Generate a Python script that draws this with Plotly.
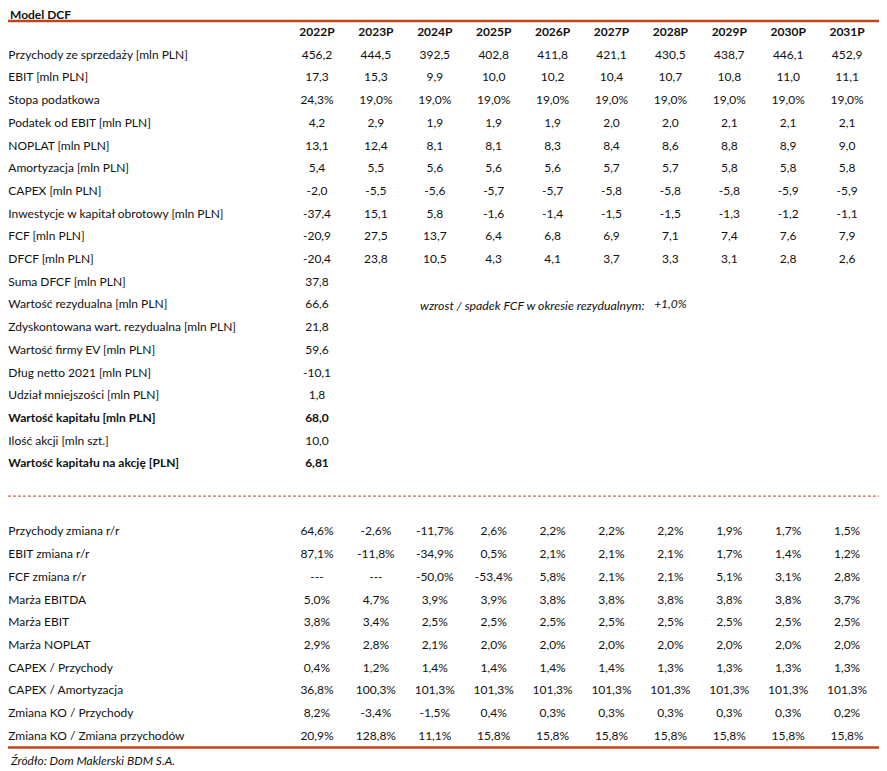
import plotly.graph_objects as go

YEARS = ["2022P", "2023P", "2024P", "2025P", "2026P", "2027P", "2028P", "2029P", "2030P", "2031P"]

MODEL_LABELS = [
    "Przychody ze sprzedaży [mln PLN]", "EBIT [mln PLN]", "Stopa podatkowa", "Podatek od EBIT [mln PLN]",
    "NOPLAT [mln PLN]", "Amortyzacja [mln PLN]", "CAPEX [mln PLN]", "Inwestycje w kapitał obrotowy [mln PLN]",
    "FCF [mln PLN]", "DFCF [mln PLN]",
]
MODEL_VALUES = [
    [456.2, 444.5, 392.5, 402.8, 411.8, 421.1, 430.5, 438.7, 446.1, 452.9],
    [17.3, 15.3, 9.9, 10.0, 10.2, 10.4, 10.7, 10.8, 11.0, 11.1],
    [24.3, 19.0, 19.0, 19.0, 19.0, 19.0, 19.0, 19.0, 19.0, 19.0],
    [4.2, 2.9, 1.9, 1.9, 1.9, 2.0, 2.0, 2.1, 2.1, 2.1],
    [13.1, 12.4, 8.1, 8.1, 8.3, 8.4, 8.6, 8.8, 8.9, 9.0],
    [5.4, 5.5, 5.6, 5.6, 5.6, 5.7, 5.7, 5.8, 5.8, 5.8],
    [-2.0, -5.5, -5.6, -5.7, -5.7, -5.8, -5.8, -5.8, -5.9, -5.9],
    [-37.4, 15.1, 5.8, -1.6, -1.4, -1.5, -1.5, -1.3, -1.2, -1.1],
    [-20.9, 27.5, 13.7, 6.4, 6.8, 6.9, 7.1, 7.4, 7.6, 7.9],
    [-20.4, 23.8, 10.5, 4.3, 4.1, 3.7, 3.3, 3.1, 2.8, 2.6],
]
PCT_MODEL_ROWS = {"Stopa podatkowa"}

VALUATION_LABELS = [
    "Suma DFCF [mln PLN]", "Wartość rezydualna [mln PLN]", "Zdyskontowana wart. rezydualna [mln PLN]",
    "Wartość firmy EV [mln PLN]", "Dług netto 2021 [mln PLN]", "Udział mniejszości [mln PLN]",
    "Wartość kapitału [mln PLN]", "Ilość akcji [mln szt.]", "Wartość kapitału na akcję [PLN]",
]
VALUATION_VALUES = ["37,8", "66,6", "21,8", "59,6", "-10,1", "1,8", "68,0", "10,0", "6,81"]
BOLD_ROWS = {"Wartość kapitału [mln PLN]", "Wartość kapitału na akcję [PLN]"}

RESIDUAL_NOTE = "wzrost / spadek FCF w okresie rezydualnym:"
RESIDUAL_GROWTH = "+1,0%"

RATIO_LABELS = [
    "Przychody zmiana r/r", "EBIT zmiana r/r", "FCF zmiana r/r", "Marża EBITDA", "Marża EBIT", "Marża NOPLAT",
    "CAPEX / Przychody", "CAPEX / Amortyzacja", "Zmiana KO / Przychody", "Zmiana KO / Zmiana przychodów",
]
RATIO_VALUES = [
    [64.6, -2.6, -11.7, 2.6, 2.2, 2.2, 2.2, 1.9, 1.7, 1.5],
    [87.1, -11.8, -34.9, 0.5, 2.1, 2.1, 2.1, 1.7, 1.4, 1.2],
    [None, None, -50.0, -53.4, 5.8, 2.1, 2.1, 5.1, 3.1, 2.8],
    [5.0, 4.7, 3.9, 3.9, 3.8, 3.8, 3.8, 3.8, 3.8, 3.7],
    [3.8, 3.4, 2.5, 2.5, 2.5, 2.5, 2.5, 2.5, 2.5, 2.5],
    [2.9, 2.8, 2.1, 2.0, 2.0, 2.0, 2.0, 2.0, 2.0, 2.0],
    [0.4, 1.2, 1.4, 1.4, 1.4, 1.4, 1.3, 1.3, 1.3, 1.3],
    [36.8, 100.3, 101.3, 101.3, 101.3, 101.3, 101.3, 101.3, 101.3, 101.3],
    [8.2, -3.4, -1.5, 0.4, 0.3, 0.3, 0.3, 0.3, 0.3, 0.2],
    [20.9, 128.8, 11.1, 15.8, 15.8, 15.8, 15.8, 15.8, 15.8, 15.8],
]

TITLE = "Model DCF"
SOURCE = "Źródło: Dom Maklerski BDM S.A."

FONT = "Lato"
TEXT_COLOR = "#111111"
RULE_COLOR = "#c0431a"
FONT_SIZE = 12
GAP_ROWS = 2

# page body has an 8px margin, so the figure is a bit smaller than the window
WIDTH, HEIGHT = 879, 763
COL_PX, FIRST_COL = 58.9, 309      # pixel pitch of year columns, centre of first one
ROW_PX, FIRST_ROW = 22.7, 25.0     # pixel pitch of rows, centre of header row
LABEL_X = (0.3 - FIRST_COL) / COL_PX
RULE_X0, RULE_X1 = -FIRST_COL / COL_PX, (872 - FIRST_COL) / COL_PX


def fmt(value, pct=False):
    if value is None:
        return "---"
    text = f"{value:.1f}".replace(".", ",")
    return text + "%" if pct else text


def bold(text):
    return f"<b>{text}</b>"


label_rows, label_texts = [], []
value_x, value_y, value_texts = [], [], []

for i, year in enumerate(YEARS):
    value_x.append(i)
    value_y.append(0)
    value_texts.append(bold(year))

row = 1
for label, values in zip(MODEL_LABELS, MODEL_VALUES):
    label_rows.append(row)
    label_texts.append(label)
    for i, v in enumerate(values):
        value_x.append(i)
        value_y.append(row)
        value_texts.append(fmt(v, label in PCT_MODEL_ROWS))
    row += 1

note_row = None
for label, value in zip(VALUATION_LABELS, VALUATION_VALUES):
    label_rows.append(row)
    label_texts.append(bold(label) if label in BOLD_ROWS else label)
    value_x.append(0)
    value_y.append(row)
    value_texts.append(bold(value) if label in BOLD_ROWS else value)
    if label.startswith("Wartość rezydualna"):
        note_row = row
    row += 1

dash_row = row + 0.4
row += GAP_ROWS

for label, values in zip(RATIO_LABELS, RATIO_VALUES):
    label_rows.append(row)
    label_texts.append(label)
    for i, v in enumerate(values):
        value_x.append(i)
        value_y.append(row)
        value_texts.append(fmt(v, True))
    row += 1
last_row = row - 1

fig = go.Figure()
fig.add_scatter(x=[LABEL_X] * len(label_rows), y=label_rows, text=label_texts, mode="text",
                textposition="middle right", hoverinfo="skip", cliponaxis=False)
fig.add_scatter(x=value_x, y=value_y, text=value_texts, mode="text",
                textposition="middle center", hoverinfo="skip", cliponaxis=False)
fig.add_scatter(x=[YEARS.index("2028P")], y=[note_row], text=[f"<i>{RESIDUAL_GROWTH}</i>"], mode="text",
                textposition="middle center", hoverinfo="skip", cliponaxis=False)
fig.add_annotation(x=YEARS.index("2028P") - 0.39, y=note_row, text=f"<i>{RESIDUAL_NOTE}</i>",
                   xanchor="right", showarrow=False, font={"size": 12.3})

fig.add_annotation(x=0, xref="paper", y=1, yref="paper", yanchor="top", yshift=3, text=bold(TITLE),
                   xanchor="left", showarrow=False)
fig.add_annotation(x=0, xref="paper", y=last_row + 1.04, text=f"<i>{SOURCE}</i>",
                   xanchor="left", showarrow=False)

top_rule = (13 - FIRST_ROW) / ROW_PX
rules = [(top_rule, 2.5, "solid"), (dash_row, 1, "3px,2px"), (last_row + 0.48, 2.5, "solid")]
for y, width, dash in rules:
    fig.add_shape(type="line", x0=RULE_X0, x1=RULE_X1, y0=y, y1=y, layer="above",
                  line={"color": RULE_COLOR, "width": width, "dash": dash})

fig.update_xaxes(range=[-FIRST_COL / COL_PX, (WIDTH - FIRST_COL) / COL_PX], visible=False)
fig.update_yaxes(range=[(HEIGHT - FIRST_ROW) / ROW_PX, -FIRST_ROW / ROW_PX], visible=False)
fig.update_layout(
    width=WIDTH, height=HEIGHT, margin={"l": 0, "r": 0, "t": 0, "b": 0},
    paper_bgcolor="white", plot_bgcolor="white", showlegend=False,
    font={"family": FONT, "size": FONT_SIZE, "color": TEXT_COLOR},
)
fig.write_html("out.html")
